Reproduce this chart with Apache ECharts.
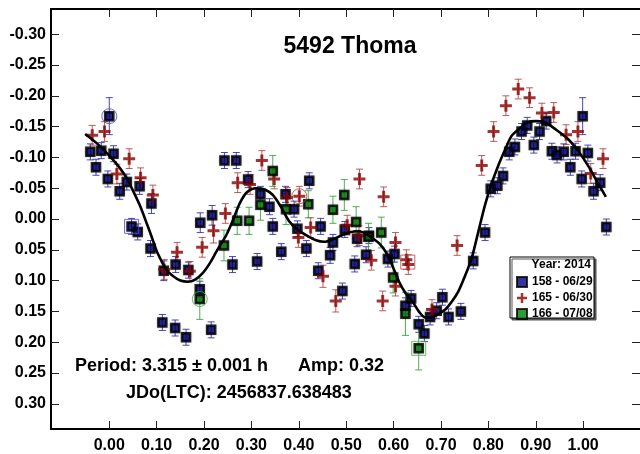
<!DOCTYPE html>
<html>
<head>
<meta charset="utf-8">
<script src="https://cdn.jsdelivr.net/npm/echarts@6/dist/echarts.min.js"></script>
<style>html,body{margin:0;padding:0;background:#fff}#c{width:640px;height:454px}</style>
</head>
<body>
<div id="c"></div>
<script>
// ---- data: [phase, magnitude, error] ----
const phaseTicks = [0, 0.1, 0.2, 0.3, 0.4, 0.5, 0.6, 0.7, 0.8, 0.9, 1.0];
const magTicks = [-0.30, -0.25, -0.20, -0.15, -0.10, -0.05, 0, 0.05, 0.10, 0.15, 0.20, 0.25, 0.30];

const seriesNames = ['158 - 06/29', '165 - 06/30', '166 - 07/08'];

const run158 = [
  [-0.040,-0.109,0.013],[-0.028,-0.084,0.013],[-0.017,-0.111,0.013],[-0.003,-0.065,0.013],
  [0.000,-0.167,0.030],[0.009,-0.106,0.013],[0.022,-0.045,0.013],[0.037,-0.060,0.013],
  [0.047,0.012,0.013],[0.060,0.021,0.013],[0.064,-0.053,0.013],[0.087,0.048,0.013],
  [0.089,-0.025,0.016],[0.112,0.168,0.013],[0.115,0.084,0.016],[0.139,0.177,0.013],
  [0.140,0.074,0.013],[0.162,0.192,0.013],[0.167,0.083,0.013],[0.191,0.114,0.013],
  [0.192,0.006,0.016],[0.215,0.180,0.013],[0.217,-0.006,0.016],[0.243,-0.095,0.013],
  [0.260,0.074,0.013],[0.268,-0.095,0.013],[0.293,-0.064,0.013],[0.312,0.069,0.013],
  [0.319,-0.040,0.013],[0.338,-0.020,0.013],[0.345,0.012,0.013],[0.363,0.053,0.013],
  [0.372,-0.040,0.013],[0.390,-0.016,0.013],[0.397,0.016,0.013],[0.416,0.048,0.013],
  [0.422,-0.062,0.013],[0.441,0.084,0.013],[0.446,0.012,0.013],[0.466,0.059,0.013],
  [0.472,0.038,0.013],[0.492,0.117,0.013],[0.497,0.017,0.013],[0.518,0.073,0.013],
  [0.523,0.032,0.013],[0.542,0.058,0.013],[0.548,0.027,0.013],[0.588,0.065,0.013],
  [0.602,0.057,0.013],[0.625,0.141,0.013],[0.637,0.129,0.013],[0.653,0.171,0.013],
  [0.665,0.186,0.013],[0.677,0.159,0.013],[0.691,0.149,0.013],[0.703,0.127,0.013],
  [0.716,0.159,0.013],[0.742,0.150,0.013],[0.768,0.068,0.013],[0.793,0.022,0.013],
  [0.805,-0.049,0.013],[0.819,-0.054,0.013],[0.831,-0.070,0.013],[0.844,-0.109,0.013],
  [0.856,-0.117,0.013],[0.870,-0.142,0.013],[0.882,-0.152,0.013],[0.896,-0.120,0.013],
  [0.908,-0.142,0.013],[0.922,-0.159,0.013],[0.934,-0.110,0.013],[0.945,-0.104,0.013],
  [0.959,-0.109,0.013],[0.973,-0.084,0.013],[0.984,-0.110,0.013],[0.997,-0.065,0.013],
  [0.999,-0.167,0.030],[1.010,-0.107,0.013],[1.022,-0.045,0.013],[1.036,-0.059,0.013],
  [1.049,0.013,0.013]
];

const run165 = [
  [-0.036,-0.136,0.016],[-0.010,-0.142,0.016],[0.016,-0.073,0.016],[0.042,-0.098,0.016],
  [0.066,-0.067,0.016],[0.092,-0.039,0.016],[0.116,0.082,0.016],[0.143,0.054,0.016],
  [0.170,0.085,0.016],[0.196,0.046,0.016],[0.220,0.019,0.020],[0.245,-0.009,0.016],
  [0.271,-0.059,0.016],[0.297,-0.056,0.016],[0.322,-0.095,0.016],[0.348,-0.065,0.016],
  [0.375,-0.035,0.016],[0.399,0.030,0.016],[0.401,-0.037,0.016],[0.425,0.014,0.016],
  [0.451,0.093,0.018],[0.478,0.133,0.018],[0.502,0.010,0.016],[0.527,0.027,0.016],
  [0.528,-0.065,0.016],[0.553,0.067,0.016],[0.577,0.133,0.016],[0.579,-0.036,0.016],
  [0.604,0.038,0.016],[0.604,0.109,0.016],[0.627,0.066,0.016],[0.631,0.074,0.016],
  [0.681,0.147,0.016],[0.734,0.043,0.016],[0.786,-0.087,0.016],[0.811,-0.142,0.016],
  [0.837,-0.184,0.016],[0.863,-0.211,0.016],[0.887,-0.197,0.016],[0.913,-0.172,0.016],
  [0.938,-0.173,0.016],[0.964,-0.137,0.016],[0.989,-0.142,0.016],[1.016,-0.074,0.016],
  [1.042,-0.098,0.016]
];

const run166 = [
  [0.191,0.130,0.033],[0.242,0.043,0.025],[0.270,0.003,0.022],[0.295,0.003,0.022],
  [0.319,-0.023,0.025],[0.345,-0.078,0.025],[0.373,-0.016,0.025],[0.420,-0.024,0.022],
  [0.472,-0.015,0.022],[0.496,-0.039,0.025],[0.521,0.005,0.025],[0.547,0.029,0.022],
  [0.574,0.022,0.025],[0.599,0.095,0.025],[0.625,0.154,0.035],[0.653,0.210,0.035]
];

// highlighted observations: [phase, magnitude, run index, outline shape]
const flagged = [
  [0.000,-0.167,0,'circle'],[0.047,0.012,0,'rect'],
  [0.401,-0.037,1,'circle'],[0.630,0.070,1,'rect'],
  [0.191,0.130,2,'circle'],[0.653,0.210,2,'rect']
];

// Fourier fit curve: [phase, magnitude]
const fitCurve = [
  [-0.051,-0.138],[-0.025,-0.122],[0.000,-0.103],[0.020,-0.085],[0.037,-0.066],
  [0.050,-0.046],[0.064,-0.023],[0.077,0.003],[0.089,0.028],[0.100,0.052],
  [0.110,0.068],[0.120,0.082],[0.135,0.093],[0.150,0.100],[0.166,0.102],
  [0.182,0.098],[0.197,0.088],[0.212,0.072],[0.226,0.053],[0.247,0.026],
  [0.262,0.000],[0.275,-0.025],[0.290,-0.043],[0.310,-0.050],[0.328,-0.048],
  [0.345,-0.039],[0.362,-0.020],[0.380,0.004],[0.398,0.018],[0.415,0.026],
  [0.435,0.034],[0.453,0.037],[0.472,0.033],[0.492,0.026],[0.510,0.021],
  [0.527,0.020],[0.542,0.024],[0.555,0.031],[0.570,0.040],[0.583,0.053],
  [0.597,0.075],[0.611,0.101],[0.625,0.120],[0.639,0.133],[0.655,0.152],
  [0.667,0.160],[0.680,0.160],[0.695,0.154],[0.709,0.147],[0.723,0.134],
  [0.737,0.117],[0.751,0.092],[0.765,0.063],[0.779,0.020],[0.793,-0.023],
  [0.807,-0.058],[0.821,-0.087],[0.835,-0.112],[0.849,-0.135],[0.866,-0.147],
  [0.884,-0.157],[0.900,-0.159],[0.919,-0.157],[0.943,-0.145],[0.968,-0.130],
  [0.990,-0.110],[1.010,-0.087],[1.030,-0.060],[1.048,-0.036]
];

// ---- styling ----
const FONT = '"Liberation Sans", Arial, Helvetica, sans-serif';
const markColors = ['#000080', '#8b0000', '#008000'];
const barColors = ['rgba(40,40,170,0.85)', 'rgba(170,40,40,0.75)', 'rgba(50,160,50,0.85)'];
const outlineColors = ['#4a4ac8', '#b04040', '#40b040'];
const crossPath = 'path://M3,0H5V3H8V5H5V8H3V5H0V3H3Z';

function errorBars(color) {
  return function (params, api) {
    const x = api.value(0), y = api.value(1), e = api.value(2);
    const a = api.coord([x, y - e]);
    const b = api.coord([x, y + e]);
    const w = 3.5;
    const st = { stroke: color, lineWidth: 1 };
    return {
      type: 'group',
      children: [
        { type: 'line', shape: { x1: a[0], y1: a[1], x2: b[0], y2: b[1] }, style: st },
        { type: 'line', shape: { x1: a[0] - w, y1: a[1], x2: a[0] + w, y2: a[1] }, style: st },
        { type: 'line', shape: { x1: b[0] - w, y1: b[1], x2: b[0] + w, y2: b[1] }, style: st }
      ]
    };
  };
}

const runs = [run158, run165, run166];
const series = [];
runs.forEach((d, i) => {
  series.push({
    name: 'err' + i, type: 'custom', renderItem: errorBars(barColors[i]),
    data: d, encode: { x: 0, y: 1 }, z: 2, silent: true
  });
});
runs.forEach((d, i) => {
  const isCross = i === 1;
  series.push({
    name: seriesNames[i], type: 'scatter', data: d.map(p => [p[0], p[1]]),
    symbol: isCross ? crossPath : 'rect',
    symbolSize: isCross ? 12 : 8,
    itemStyle: isCross
      ? { color: markColors[i] }
      : { color: markColors[i], borderColor: '#000', borderWidth: 2.5, shadowBlur: 2, shadowColor: 'rgba(0,0,0,0.35)' },
    z: 3
  });
});
series.push({
  name: 'flagged', type: 'scatter', z: 4, silent: true,
  data: flagged.map(f => ({
    value: [f[0], f[1]],
    symbol: f[3],
    symbolSize: f[3] === 'circle' ? 15 : 14,
    itemStyle: { color: 'rgba(0,0,0,0)', borderColor: outlineColors[f[2]], borderWidth: 1 }
  }))
});
series.push({
  name: 'fit', type: 'line', data: fitCurve, smooth: 0.3, showSymbol: false, symbol: 'none',
  lineStyle: { color: '#000', width: 2.6 }, z: 5, silent: true
});

const xCommon = { type: 'value', min: -0.123, max: 1.12 };
const yCommon = { type: 'value', min: -0.341, max: 0.341, inverse: true };
const tickStyle = { show: true, inside: true, length: 8, lineStyle: { color: '#222', width: 1 } };
const lineStyle = { show: true, onZero: false, lineStyle: { color: '#000', width: 2 } };

const option = {
  animation: false,
  backgroundColor: '#fff',
  grid: { left: 51, top: 9, width: 591.7, height: 422.8, containLabel: false },
  xAxis: [
    Object.assign({}, xCommon, {
      position: 'bottom',
      axisLine: lineStyle,
      axisTick: Object.assign({}, tickStyle, { customValues: phaseTicks }),
      axisLabel: { customValues: phaseTicks, formatter: v => v.toFixed(2), margin: 9,
        fontFamily: FONT, fontWeight: 'bold', fontSize: 16, color: '#000' },
      splitLine: { show: false }
    }),
    Object.assign({}, xCommon, {
      position: 'top',
      axisLine: lineStyle,
      axisTick: Object.assign({}, tickStyle, { customValues: phaseTicks }),
      axisLabel: { show: false },
      splitLine: { show: false }
    })
  ],
  yAxis: [
    Object.assign({}, yCommon, {
      position: 'left',
      axisLine: lineStyle,
      axisTick: Object.assign({}, tickStyle, { customValues: magTicks }),
      axisLabel: { customValues: magTicks, formatter: v => v.toFixed(2), margin: 5,
        fontFamily: FONT, fontWeight: 'bold', fontSize: 16, color: '#000' },
      splitLine: { show: false }
    }),
    Object.assign({}, yCommon, {
      position: 'right',
      axisLine: { show: false, onZero: false },
      axisTick: Object.assign({}, tickStyle, { customValues: magTicks }),
      axisLabel: { show: false },
      splitLine: { show: false }
    })
  ],
  legend: {
    data: seriesNames, orient: 'vertical', left: 516, top: 276, padding: 0,
    itemWidth: 10, itemHeight: 10, itemGap: 4, z: 10, selectedMode: false,
    textStyle: { fontFamily: FONT, fontWeight: 'bold', fontSize: 12, color: '#000', padding: [0, 0, 0, 0] }
  },
  graphic: [
    { type: 'rect', z: 8, shape: { x: 510, y: 257, width: 84, height: 61 },
      style: { fill: '#fff', stroke: '#000', lineWidth: 1, shadowColor: '#555', shadowOffsetX: 2, shadowOffsetY: 2, shadowBlur: 0 } },
    { type: 'text', z: 9, x: 591, y: 265,
      style: { text: 'Year: 2014', fontFamily: FONT, fontWeight: 'bold', fontSize: 12, fill: '#000', align: 'right', verticalAlign: 'middle' } },
    { type: 'text', z: 9, x: 350, y: 47,
      style: { text: '5492 Thoma', fontFamily: FONT, fontWeight: 'bold', fontSize: 23, fill: '#000', align: 'center', verticalAlign: 'middle' } },
    { type: 'text', z: 9, x: 75, y: 366,
      style: { text: 'Period: 3.315 \u00b1 0.001 h', fontFamily: FONT, fontWeight: 'bold', fontSize: 18, fill: '#000', align: 'left', verticalAlign: 'middle' } },
    { type: 'text', z: 9, x: 298, y: 366,
      style: { text: 'Amp: 0.32', fontFamily: FONT, fontWeight: 'bold', fontSize: 18, fill: '#000', align: 'left', verticalAlign: 'middle' } },
    { type: 'text', z: 9, x: 126, y: 393,
      style: { text: 'JDo(LTC): 2456837.638483', fontFamily: FONT, fontWeight: 'bold', fontSize: 18, fill: '#000', align: 'left', verticalAlign: 'middle' } }
  ],
  series: series
};

const chart = echarts.init(document.getElementById('c'), null, { renderer: 'canvas' });
chart.setOption(option);
</script>
</body>
</html>
